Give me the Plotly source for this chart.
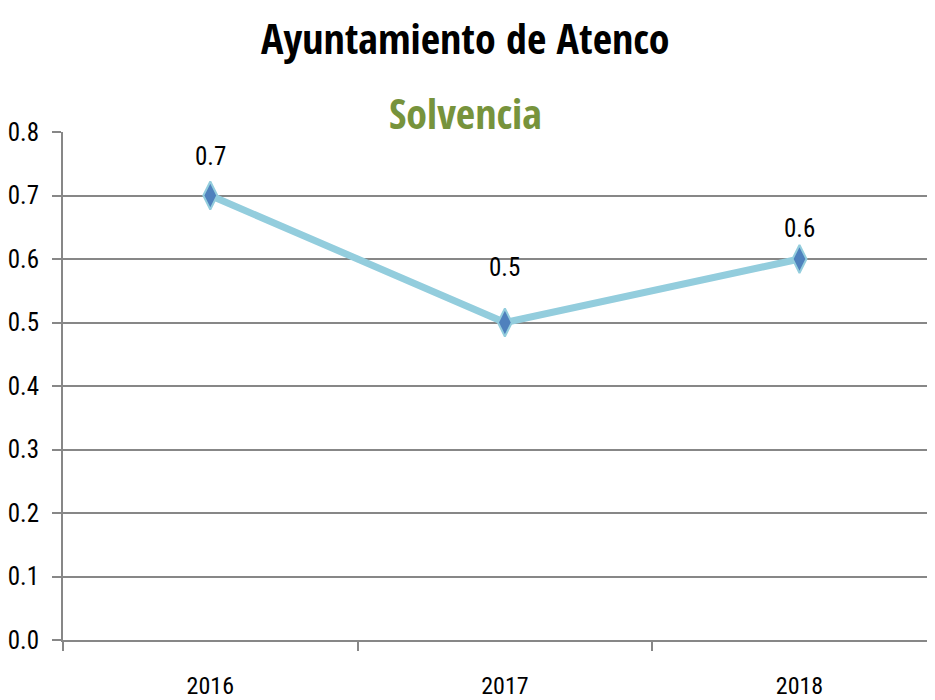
import plotly.graph_objects as go

years = ["2016", "2017", "2018"]
solvencia = [0.7, 0.5, 0.6]
label_text = ["0.7", "0.5", "0.6"]
label_shift = [39, 55, 31]
y_ticks = [0.0, 0.1, 0.2, 0.3, 0.4, 0.5, 0.6, 0.7, 0.8]

TITLE_FONT = "Open Sans Condensed, Roboto Condensed, sans-serif"
FONT = "Roboto Condensed, Open Sans Condensed, sans-serif"
GRAY = "#878787"

fig = go.Figure()
fig.add_trace(go.Scatter(
    x=years, y=solvencia, mode="lines+markers",
    line=dict(color="#93CDDD", width=7),
    marker=dict(symbol="diamond-tall", size=20, color="#4F81BD",
                line=dict(color="#93CDDD", width=2)),
    hoverinfo="skip", showlegend=False,
))

for i, (y, t, s) in enumerate(zip(solvencia, label_text, label_shift)):
    fig.add_annotation(x=i, y=y, text=t, showarrow=False, yshift=s,
                       font=dict(family=FONT, size=25, color="#000000"))

fig.add_annotation(xref="paper", yref="paper", x=0.5, y=1,
                   text="<b>Ayuntamiento de Atenco</b>", showarrow=False,
                   xanchor="center", yanchor="middle", yshift=95, xshift=-34,
                   font=dict(family=TITLE_FONT, size=42, color="#000000"))
fig.add_annotation(xref="paper", yref="paper", x=0.5, y=1,
                   text="<b>Solvencia</b>", showarrow=False,
                   xanchor="center", yanchor="middle", yshift=20, xshift=-34,
                   font=dict(family=TITLE_FONT, size=42, color="#77933C"))

fig.update_layout(
    width=927, height=692,
    margin=dict(l=54, r=0, t=124, b=56),
    paper_bgcolor="white", plot_bgcolor="white",
    font=dict(family=FONT, size=24, color="#000000"),
    xaxis=dict(type="category", range=[-0.5, 2.46], tickson="boundaries",
               ticks="outside", ticklen=9, tickwidth=1.5, tickcolor=GRAY,
               showline=True, linecolor=GRAY, linewidth=2,
               showgrid=False, ticklabelstandoff=23,
               tickfont=dict(family=FONT, size=24)),
    yaxis=dict(range=[0, 0.8], tickvals=y_ticks, tickformat=".1f",
               ticks="outside", ticklen=9, tickwidth=2, tickcolor=GRAY,
               showline=True, linecolor=GRAY, linewidth=2,
               showgrid=True, gridcolor=GRAY, gridwidth=2,
               zeroline=False, ticklabelstandoff=8,
               tickfont=dict(family=FONT, size=25)),
)

fig.write_html("out.html")
